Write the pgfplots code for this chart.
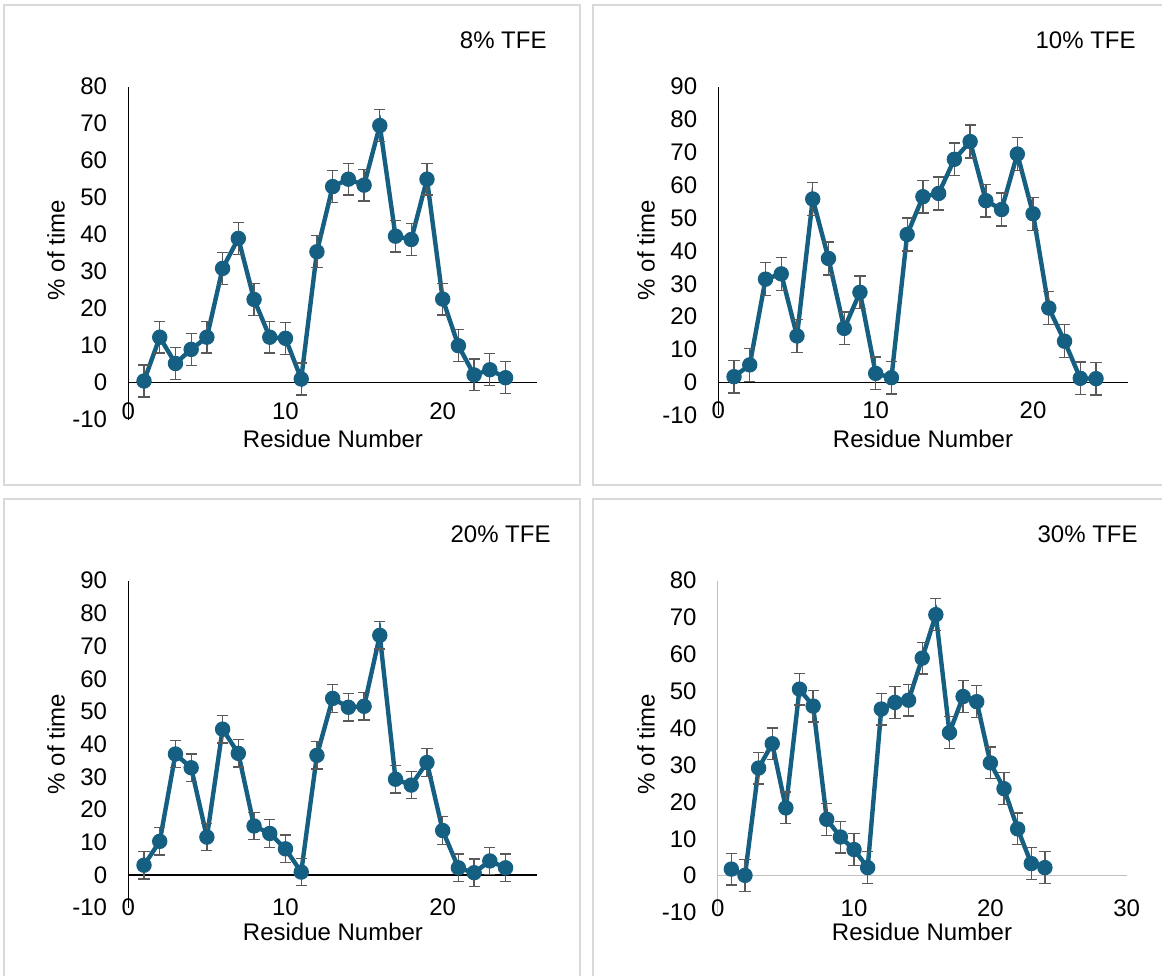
\documentclass[border=0pt]{standalone}
\usepackage{pgfplots}
\pgfplotsset{compat=1.18}
\usepackage{fontspec}
\setmainfont{Liberation Sans}

\definecolor{series}{HTML}{156082}
\definecolor{errbar}{HTML}{595959}
\definecolor{frame}{HTML}{D9D9D9}
\definecolor{lightaxis}{HTML}{BFBFBF}

% residue, % of time, error
\pgfplotstableread{
x y e
1 0.45 4.3
2 12.3 4.3
3 5.2 4.3
4 9.0 4.3
5 12.3 4.3
6 30.9 4.3
7 39.0 4.3
8 22.5 4.3
9 12.3 4.3
10 12.0 4.3
11 1.0 4.3
12 35.4 4.3
13 53.0 4.3
14 55.0 4.3
15 53.4 4.3
16 69.5 4.3
17 39.6 4.3
18 38.7 4.3
19 55.0 4.3
20 22.6 4.3
21 10.0 4.3
22 2.1 4.3
23 3.5 4.3
24 1.35 4.3
}\tfeeight

\pgfplotstableread{
x y e
1 1.7 5.0
2 5.3 5.0
3 31.4 5.0
4 33.0 5.0
5 14.1 5.0
6 55.8 5.0
7 37.7 5.0
8 16.4 5.0
9 27.4 5.0
10 2.7 5.0
11 1.4 5.0
12 45.0 5.0
13 56.5 5.0
14 57.5 5.0
15 67.9 5.0
16 73.3 5.0
17 55.3 5.0
18 52.6 5.0
19 69.5 5.0
20 51.3 5.0
21 22.6 5.0
22 12.5 5.0
23 1.2 5.0
24 1.1 5.0
}\tfeten

\pgfplotstableread{
x y e
1 3.0 4.2
2 10.3 4.2
3 37.0 4.2
4 32.8 4.2
5 11.6 4.2
6 44.6 4.2
7 37.2 4.2
8 15.0 4.2
9 12.7 4.2
10 8.0 4.2
11 0.9 4.2
12 36.6 4.2
13 54.0 4.2
14 51.3 4.2
15 51.6 4.2
16 73.3 4.2
17 29.3 4.2
18 27.5 4.2
19 34.4 4.2
20 13.6 4.2
21 2.2 4.2
22 0.7 4.2
23 4.3 4.2
24 2.2 4.2
}\tfetwenty

\pgfplotstableread{
x y e
1 1.8 4.3
2 0.1 4.3
3 29.2 4.3
4 35.8 4.3
5 18.4 4.3
6 50.6 4.3
7 46.0 4.3
8 15.3 4.3
9 10.5 4.3
10 7.1 4.3
11 2.2 4.3
12 45.2 4.3
13 47.0 4.3
14 47.6 4.3
15 59.0 4.3
16 70.8 4.3
17 38.8 4.3
18 48.6 4.3
19 47.2 4.3
20 30.6 4.3
21 23.6 4.3
22 12.7 4.3
23 3.3 4.3
24 2.2 4.3
}\tfethirty

\pgfplotsset{
  panel/.style={
    scale only axis,
    anchor=south west,
    axis x line=middle,
    axis y line=left,
    axis line style={-, line width=0.6pt, black},
    major tick length=0pt,
    hide obscured x ticks=false,
    hide obscured y ticks=false,
    xmin=0,
    ymin=-10,
    clip=false,
    tick label style={font=\fontsize{12}{14}\selectfont, inner sep=0pt},
    yticklabel style={anchor=east, xshift=-10.4pt},
    xticklabel style={anchor=center, yshift=-14.2pt},
  },
  series/.style={
    color=series, line width=2.2pt, mark=*,
    mark options={solid, fill=series, draw=series, line width=0.5pt},
    mark size=3.6pt,
    error bars/.cd, y dir=both, y explicit,
    error mark=-,
    error bar style={errbar, line width=0.65pt},
    error mark options={rotate=90, errbar, line width=0.65pt, mark size=2.8pt},
  },
}

\begin{document}
\begin{tikzpicture}[font=\fontsize{12}{14}\selectfont]
\useasboundingbox (0pt,0pt) rectangle (581pt,-487.5pt);
\fill[white] (0pt,0pt) rectangle (581pt,-487.5pt);

% panel frames
\draw[frame, line width=0.6pt] (2pt,-2.5pt) rectangle (290pt,-242.5pt);
\draw[frame, line width=0.6pt] (296.5pt,-2.5pt) rectangle (590pt,-242.5pt);
\draw[frame, line width=0.6pt] (2pt,-249.5pt) rectangle (290pt,-495pt);
\draw[frame, line width=0.6pt] (296.5pt,-249.5pt) rectangle (590pt,-495pt);

% 8% TFE
\begin{axis}[panel, at={(64.15pt,-209.85pt)}, width=204.35pt, height=166.5pt,
  xmax=26, ymax=80,
  xtick={0,10,20}, xticklabels={0,10,20},
  ytick={-10,0,10,20,30,40,50,60,70,80},
  yticklabels={-10,0,10,20,30,40,50,60,70,80}]
\addplot[series] table[x=x, y=y, y error=e] {\tfeeight};
\end{axis}
\node[anchor=east, inner sep=0pt] at (273.5pt,-20pt) {8\% TFE};
\node[rotate=90] at (28pt,-125pt) {\% of time};
\node at (166.5pt,-219.5pt) {Residue Number};

% 10% TFE
\begin{axis}[panel, at={(359.15pt,-207.55pt)}, width=204.6pt, height=164.2pt,
  xmax=26, ymax=90,
  xtick={0,10,20}, xticklabels={0,10,20},
  ytick={-10,0,10,20,30,40,50,60,70,80,90},
  yticklabels={-10,0,10,20,30,40,50,60,70,80,90}]
\addplot[series] table[x=x, y=y, y error=e] {\tfeten};
\end{axis}
\node[anchor=east, inner sep=0pt] at (568pt,-20pt) {10\% TFE};
\node[rotate=90] at (323pt,-125pt) {\% of time};
\node at (461.5pt,-219.5pt) {Residue Number};

% 20% TFE
\begin{axis}[panel, at={(64.15pt,-453.85pt)}, width=204.35pt, height=163.5pt,
  xmax=26, ymax=90,
  xtick={0,10,20}, xticklabels={0,10,20},
  ytick={-10,0,10,20,30,40,50,60,70,80,90},
  yticklabels={-10,0,10,20,30,40,50,60,70,80,90},
  xticklabel style={yshift=-2pt}]
\addplot[series] table[x=x, y=y, y error=e] {\tfetwenty};
\end{axis}
\node[anchor=east, inner sep=0pt] at (275.5pt,-267pt) {20\% TFE};
\node[rotate=90] at (28pt,-372pt) {\% of time};
\node at (166.5pt,-466pt) {Residue Number};

% 30% TFE
\begin{axis}[panel, at={(358.85pt,-456.3pt)}, width=204.5pt, height=165.95pt,
  xmax=30, ymax=80,
  axis line style={lightaxis},
  xtick={0,10,20,30}, xticklabels={0,10,20,30},
  ytick={-10,0,10,20,30,40,50,60,70,80},
  yticklabels={-10,0,10,20,30,40,50,60,70,80},
  xticklabel style={yshift=-2pt}]
\addplot[series] table[x=x, y=y, y error=e] {\tfethirty};
\end{axis}
\node[anchor=east, inner sep=0pt] at (569pt,-267pt) {30\% TFE};
\node[rotate=90] at (323pt,-372pt) {\% of time};
\node at (461pt,-466pt) {Residue Number};
\end{tikzpicture}
\end{document}
